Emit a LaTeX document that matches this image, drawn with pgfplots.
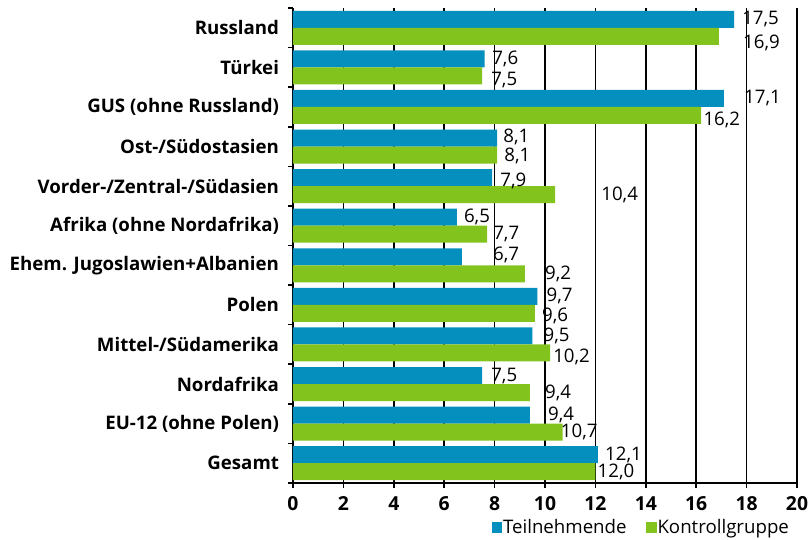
\documentclass[border=0pt]{standalone}
\usepackage{fontspec}
\setmainfont{Open Sans}
\usepackage{pgfplots}
\pgfplotsset{compat=1.18}
\usepackage{pgfplotstable}
\definecolor{tblue}{RGB}{4,143,190}
\definecolor{tgreen}{RGB}{130,195,30}

% y: 11 = Russland (top) ... 0 = Gesamt (bottom); dx, dy = label offsets in px
\pgfplotstableread{
y x dx dy
11 17.5 8 0
10 7.6 7.5 0
9 17.1 20 0
8 8.1 6 -1
7 7.9 8 3
6 6.5 7 0
5 6.7 31 -2
4 9.7 9 0
3 9.5 11 0
2 7.5 9 0
1 9.4 18 0
0 12.1 7 0
}\datateil
\pgfplotstableread{
y x dx dy
11 16.9 24 7
10 7.5 9 4.5
9 16.2 2 4
8 8.1 7 1
7 10.4 46 0
6 7.7 6 0
5 9.2 20 0
4 9.6 7 3
3 10.2 3 4
2 9.4 15 0
1 10.7 -2 0
0 12.0 2 0
}\datakontr

\begin{document}
\begin{tikzpicture}
\begin{axis}[
  at={(0,0)}, anchor=south west,
  scale only axis,
  width=378pt, height=356.25pt,
  xmin=0, xmax=20, ymin=-0.5, ymax=11.5,
  axis x line*=bottom, axis y line*=left,
  axis line style={black, line width=1.5pt},
  tick align=outside,
  tick style={black, line width=1.2pt},
  major tick length=4pt,
  xtick={0,2,...,20},
  xmajorgrids,
  major grid style={black, line width=1.2pt},
  x tick label style={font=\fontsize{14.5}{16}\selectfont\bfseries, yshift=-2.5pt, /pgf/number format/assume math mode=true},
  ytick={-0.5,0.5,...,11.5},
  yticklabels={},
  extra y ticks={0,1,...,11},
  extra y tick labels={Gesamt,EU-12 (ohne Polen),Nordafrika,Mittel-/Südamerika,Polen,Ehem. Jugoslawien+Albanien,Afrika (ohne Nordafrika),Vorder-/Zentral-/Südasien,Ost-/Südostasien,GUS (ohne Russland),Türkei,Russland},
  extra y tick style={major tick length=0pt, grid=none,
    yticklabel style={font=\fontsize{14}{16}\selectfont\bfseries, xshift=-7pt}},
  xbar, bar width=12.75pt,
  nodes near coords,
  nodes near coords style={font=\fontsize{14}{16}\selectfont, anchor=west, inner sep=0pt,
    /pgf/number format/assume math mode=true,
    /pgf/number format/use comma, /pgf/number format/fixed, /pgf/number format/fixed zerofill, /pgf/number format/precision=1},
  every node near coord/.append style={xshift=\dx*0.75pt, yshift=-\dy*0.75pt},
  visualization depends on={\thisrow{dx} \as \dx},
  visualization depends on={\thisrow{dy} \as \dy},
  legend style={at={(0.994,-0.0926)}, anchor=east, draw=none, fill=none,
    legend columns=2, font=\fontsize{14}{16}\selectfont,
    /tikz/every even column/.append style={column sep=14pt},
    /tikz/every node/.append style={inner sep=0.6pt}},
  legend image code/.code={\draw[#1,draw=none] (0pt,-4.5pt) rectangle (8pt,4pt);},
]
\addplot[fill=tblue, draw=none, bar shift=6.375pt] table[x=x, y=y] {\datateil};
\addlegendentry{Teilnehmende}
\addplot[fill=tgreen, draw=none, bar shift=-6.375pt] table[x=x, y=y] {\datakontr};
\addlegendentry{Kontrollgruppe}
\end{axis}
\pgfresetboundingbox
\path (-219.75pt,-42pt) rectangle (389.25pt,362.25pt);
\end{tikzpicture}
\end{document}
